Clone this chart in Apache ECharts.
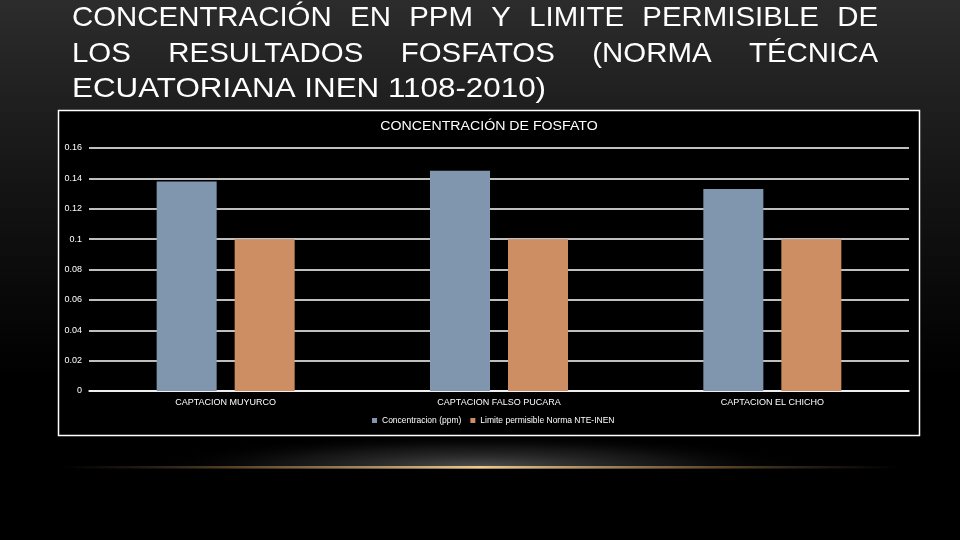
<!DOCTYPE html>
<html><head><meta charset="utf-8">
<script src="https://cdn.jsdelivr.net/npm/echarts@6/dist/echarts.min.js"></script>
<style>html,body{margin:0;padding:0;background:#000}#c{width:960px;height:540px}</style>
</head><body><div id="c"></div>
<script>
const titleLines = [
  ["CONCENTRACIÓN","EN","PPM","Y","LIMITE","PERMISIBLE","DE"],
  ["LOS","RESULTADOS","FOSFATOS","(NORMA","TÉCNICA"],
  ["ECUATORIANA INEN 1108-2010)"]
];
const chartTitle = "CONCENTRACIÓN DE FOSFATO";
const categories = ["CAPTACION MUYURCO","CAPTACION FALSO PUCARA","CAPTACION EL CHICHO"];
const seriesNames = ["Concentracion (ppm)","Limite permisible Norma NTE-INEN"];
const concentracion = [0.138, 0.145, 0.133];
const limite = [0.1, 0.1, 0.1];
const yTicks = {min:0, max:0.16, interval:0.02};

const chart = echarts.init(document.getElementById('c'));
const FAM = '"Liberation Sans", Arial, sans-serif';
const titleFont = '28px ' + FAM;
const lineScale = [1.05, 1.05, 1.12];
const ctx = document.createElement('canvas').getContext('2d');
ctx.font = titleFont;
const L = 72, R = 878;
const graphics = [];
graphics.push({type:'rect', z:-10, shape:{x:0,y:0,width:960,height:540},
  style:{fill:new echarts.graphic.LinearGradient(0,0,0,1,[{offset:0,color:'#2c2c2c'},{offset:0.35,color:'#141414'},{offset:0.7,color:'#000'},{offset:1,color:'#000'}])}, silent:true});
graphics.push({type:'circle', z:-9, x:480, y:467, scaleY:0.1, shape:{cx:0,cy:0,r:330},
  style:{fill:new echarts.graphic.RadialGradient(0.5,0.5,0.5,[{offset:0,color:'rgba(95,95,95,0.85)'},{offset:0.6,color:'rgba(50,50,50,0.4)'},{offset:1,color:'rgba(0,0,0,0)'}])}, silent:true});
graphics.push({type:'rect', z:-8.5, shape:{x:0,y:469,width:960,height:71}, style:{fill:'#000'}, silent:true});
graphics.push({type:'rect', z:-8, shape:{x:60,y:466,width:840,height:2.5},
  style:{fill:new echarts.graphic.LinearGradient(0,0,1,0,[{offset:0,color:'rgba(120,100,60,0)'},{offset:0.2,color:'rgba(160,120,70,0.5)'},{offset:0.5,color:'#f2cb8a'},{offset:0.8,color:'rgba(160,120,70,0.5)'},{offset:1,color:'rgba(120,100,60,0)'}])}, silent:true});
graphics.push({type:'rect', z:-5, shape:{x:58.5,y:110.5,width:861,height:325},
  style:{fill:'#000', stroke:'#fff', lineWidth:1.5}, silent:true});
const baseY = [18, 54, 89];
titleLines.forEach((words, i) => {
  const SX = lineScale[i];
  const widths = words.map(w => ctx.measureText(w).width * SX);
  if (words.length === 1) {
    graphics.push({type:'text', x:L, y:baseY[i], scaleX:SX, style:{text:words[0], font:titleFont, fill:'#fff', verticalAlign:'middle', align:'left'}});
    return;
  }
  const total = widths.reduce((a,b)=>a+b,0);
  const gap = (R - L - total) / (words.length - 1);
  let x = L;
  words.forEach((w, j) => {
    graphics.push({type:'text', x:x, y:baseY[i], scaleX:SX, style:{text:w, font:titleFont, fill:'#fff', verticalAlign:'middle', align:'left'}});
    x += widths[j] + gap;
  });
});
graphics.push({type:'text', x:489, y:127, scaleX:1.18, style:{text:chartTitle, font:'12px ' + FAM, fill:'#fff', align:'center', verticalAlign:'middle'}});

chart.setOption({
  animation:false,
  backgroundColor:'#000',
  graphic:graphics,
  grid:{left:89, right:51, top:148, bottom:149},
  legend:{data:seriesNames, bottom:110, left:367, itemWidth:5, itemHeight:5, itemGap:9,
    icon:'rect', textStyle:{color:'#fff', fontSize:8.5, fontFamily:FAM}},
  xAxis:{type:'category', data:categories,
    axisLine:{lineStyle:{color:'#fff', width:1.5}}, axisTick:{show:false},
    axisLabel:{color:'#fff', fontSize:9, margin:7, fontFamily:FAM}},
  yAxis:{type:'value', min:yTicks.min, max:yTicks.max, interval:yTicks.interval,
    axisLine:{show:false}, axisTick:{show:false},
    splitLine:{lineStyle:{color:'#fff', width:1.5}},
    axisLabel:{color:'#fff', fontSize:9, margin:7, fontFamily:FAM,
      formatter: v => String(+v.toFixed(2))}},
  series:[
    {name:seriesNames[0], type:'bar', data:concentracion, barWidth:60, barGap:'30%', itemStyle:{color:'#7f96ae'}},
    {name:seriesNames[1], type:'bar', data:limite, barWidth:60, barGap:'30%', itemStyle:{color:'#cd8e63'}}
  ]
});
</script></body></html>
